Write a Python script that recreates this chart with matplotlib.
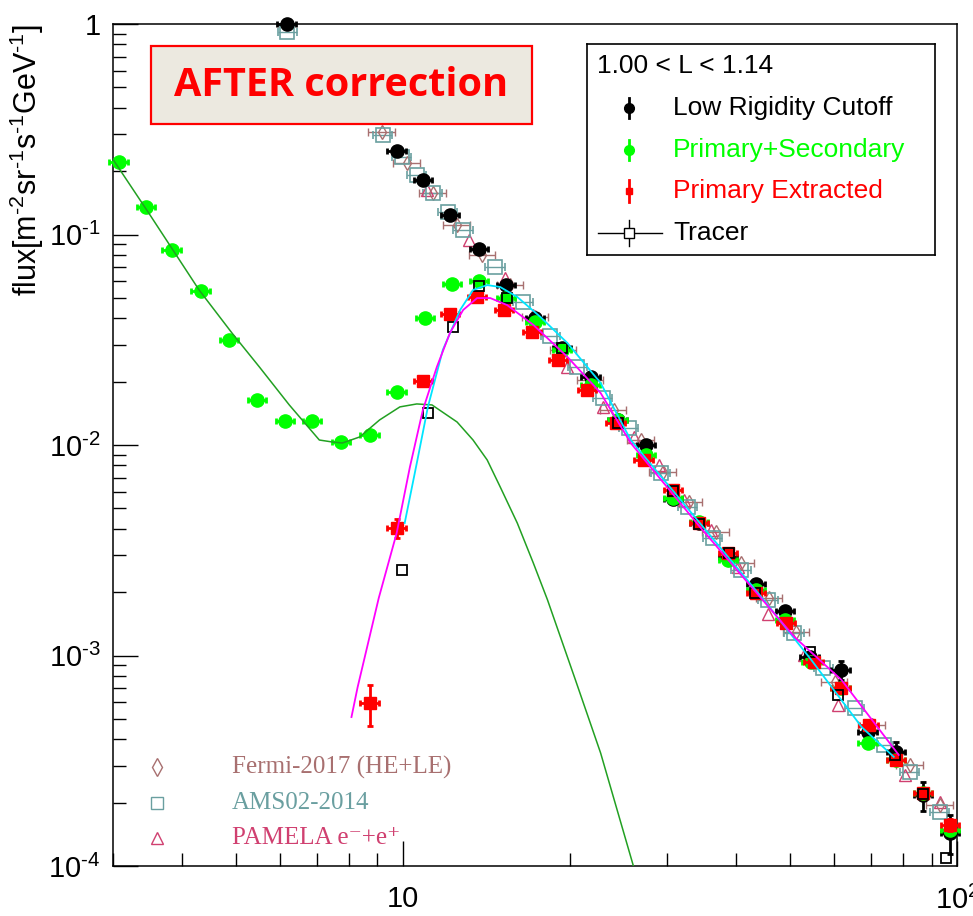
import numpy as np
import matplotlib
matplotlib.use("Agg")
import matplotlib.pyplot as plt
from matplotlib.patches import Rectangle
from matplotlib.lines import Line2D
from matplotlib.ticker import FixedLocator, NullFormatter, LogLocator

plt.rcParams['font.family'] = ['Liberation Sans', 'DejaVu Sans']
plt.rcParams['mathtext.fontset'] = 'custom'
plt.rcParams['mathtext.rm'] = 'Liberation Sans'
plt.rcParams['mathtext.it'] = 'Liberation Sans:italic'
plt.rcParams['mathtext.bf'] = 'Liberation Sans:bold'

# ---- data (energy in GeV, flux) ----
# Low Rigidity Cutoff (black)
lrc_e = [6.17, 9.75, 10.87, 12.16, 13.73, 15.37, 17.34, 19.41, 21.82, 24.42, 27.45,
         30.72, 34.22, 38.64, 43.42, 49.0, 54.2, 61.7, 69.0, 77.6, 86.8, 97.1]
lrc_flux = [1.0, 0.249, 0.182, 0.124, 0.0853, 0.0575, 0.0401, 0.0289, 0.0210, 0.0132, 0.0100,
            0.00554, 0.00426, 0.00294, 0.00219, 0.00163, 0.000984, 0.000853, 0.000433, 0.000348,
            0.000217, 0.000144]
lrc_err = [0.02, 0.005, 0.004, 0.003, 0.002, 0.0014, 0.001, 0.0007, 0.0005, 0.0004, 0.0003,
           0.0002, 0.00015, 0.0001, 0.00008, 0.00007, 0.00006, 0.00009, 0.00006, 0.00004,
           0.000035, 0.00003]

# Primary+Secondary (green)
sec_e = [3.07, 3.44, 3.83, 4.32, 4.86, 5.46, 6.14, 6.87, 7.75, 8.71, 9.75, 10.96, 12.27,
         13.73, 15.37, 17.34, 19.41, 21.82, 24.42, 27.45, 30.72, 34.22, 38.64, 43.42, 49.0,
         54.6, 61.7, 69.0, 77.6, 86.8, 97.1]
sec_flux = [0.221, 0.135, 0.0844, 0.0539, 0.0315, 0.0164, 0.0130, 0.0130, 0.0103, 0.0112,
            0.0179, 0.0401, 0.0582, 0.0601, 0.0499, 0.0384, 0.0283, 0.0193, 0.0132, 0.00896,
            0.0056, 0.0043, 0.00284, 0.00205, 0.00148, 0.00093, 0.00070, 0.000384, 0.000319,
            0.000222, 0.000148]

# Primary Extracted (red)
pri_e = [8.71, 9.75, 10.87, 12.16, 13.62, 15.24, 17.13, 19.09, 21.54, 24.22, 27.22, 30.72,
         34.22, 38.64, 43.42, 49.2, 55.1, 61.7, 69.3, 77.6, 86.8, 97.1]
pri_flux = [0.000594, 0.00403, 0.0201, 0.0419, 0.0505, 0.0438, 0.0344, 0.0253, 0.0183, 0.0127,
            0.00849, 0.00611, 0.00426, 0.00307, 0.00198, 0.00143, 0.00093, 0.00070, 0.000468,
            0.000319, 0.000222, 0.000157]
pri_err = [0.00013, 0.0004, 0.0008, 0.0012, 0.0012, 0.001, 0.0008, 0.0006, 0.0004, 0.0003,
           0.0002, 0.00015, 0.0001, 0.00008, 0.00006, 0.00004, 0.00003, 0.00002, 0.000015,
           0.00001, 0.00001, 0.00001]

# Tracer (open black squares)
trc_e = [9.96, 11.10, 12.32, 13.73, 15.43, 19.41, 24.42, 30.72, 34.22, 38.80, 43.26, 54.2,
         61.1, 77.2, 86.8, 95.5]
trc_flux = [0.00255, 0.0142, 0.0364, 0.0569, 0.0499, 0.0289, 0.0127, 0.00604, 0.00421,
            0.00307, 0.00198, 0.00104, 0.00065, 0.000337, 0.00022, 0.000109]

# reference measurements
fermi_e = [9.16, 10.17, 11.33, 12.53, 13.91, 15.63, 17.34, 19.50, 21.82, 24.01, 26.87, 29.45,
           32.84, 36.74, 40.79, 45.84, 51.31, 60.12, 70.15, 82.2, 93.2]
fermi_flux = [0.307, 0.219, 0.1575, 0.111, 0.0799, 0.0575, 0.0406, 0.0283, 0.0204, 0.01467,
              0.01056, 0.00745, 0.00536, 0.00386, 0.00275, 0.001876, 0.001294, 0.000748,
              0.000468, 0.000302, 0.000195]
ams_e = [6.19, 9.20, 9.96, 10.60, 11.33, 12.06, 12.85, 14.68, 16.50, 18.47, 20.66, 22.94,
         25.56, 29.21, 32.70, 36.28, 40.79, 45.65, 50.87, 57.42, 65.35, 73.75, 82.2, 93.2]
ams_flux = [0.916, 0.297, 0.233, 0.192, 0.1575, 0.128, 0.105, 0.0701, 0.0478, 0.0329, 0.0235,
            0.0167, 0.01205, 0.00737, 0.00507, 0.00361, 0.00255, 0.00184, 0.00128, 0.000873,
            0.000564, 0.000376, 0.00028, 0.000181]
pam_e = [11.05, 13.17, 15.31, 17.20, 19.82, 22.94, 26.10, 28.97, 32.16, 35.98, 40.29, 45.65,
         53.04, 61.12, 80.5, 93.2]
pam_flux = [0.1627, 0.0942, 0.0621, 0.0415, 0.0235, 0.01517, 0.01092, 0.00803, 0.00548,
            0.00395, 0.00263, 0.00157, 0.001005, 0.000582, 0.00027, 0.000201]

# fitted curves
secfit_e = [2.98, 3.48, 4.29, 4.92, 5.51, 6.24, 7.07, 7.47, 7.78, 8.36, 9.08, 9.88, 10.60,
            11.29, 12.53, 13.39, 14.20, 14.99, 16.09, 17.20, 18.24, 20.49, 22.75, 26.10, 26.9]
secfit_flux = [0.2335, 0.1265, 0.0545, 0.0340, 0.0235, 0.0155, 0.01056, 0.01033, 0.01022,
               0.01092, 0.01315, 0.01517, 0.01567, 0.0155, 0.01286, 0.01056, 0.00849, 0.00632,
               0.00426, 0.00275, 0.00184, 0.000765, 0.000344, 0.0000989, 0.000069]
magfit_e = [8.08, 8.29, 9.05, 9.75, 10.30, 10.87, 11.52, 12.16, 12.85, 13.62, 14.38, 15.43,
            17.20, 19.82, 22.75, 25.78, 34.4, 50.9, 61.9, 78.5]
magfit_flux = [0.00051, 0.000708, 0.001876, 0.00382, 0.00786, 0.01467, 0.02348, 0.0340, 0.0438,
               0.0499, 0.0499, 0.0462, 0.0372, 0.0262, 0.01766, 0.01022, 0.00407, 0.001224,
               0.000765, 0.000337]
cyanfit_e = [10.08, 10.60, 11.10, 11.81, 12.69, 13.39, 14.20, 14.99, 16.09, 17.71, 19.82,
             22.75, 25.78, 44.34, 54.6, 67.3, 76.9]
cyanfit_flux = [0.00426, 0.00821, 0.01517, 0.0283, 0.0438, 0.0545, 0.0575, 0.0563, 0.0505,
                0.0406, 0.0305, 0.0197, 0.01056, 0.0019, 0.000952, 0.000457, 0.00033]

ytick_vals = [1e-4, 1e-3, 1e-2, 1e-1, 1]
ytick_labels = [r'$10^{\text{-}4}$', r'$10^{\text{-}3}$', r'$10^{\text{-}2}$',
                r'$10^{\text{-}1}$', '1']
xtick_vals = [10, 100]
xtick_labels = ['10', r'$10^{2}$']

# ---- figure ----
W, H = 973, 916
def fx(x):
    return x / W
def fy(y):
    return 1 - y / H

fig = plt.figure(figsize=(W / 100, H / 100), dpi=100)
ax = fig.add_axes([fx(113), fy(866), (957 - 113) / W, (866 - 24) / H])
ax.set_xscale('log')
ax.set_yscale('log')
ax.set_xlim(3, 100)
ax.set_ylim(1e-4, 1)

def errs(x, y, xfrac, yerr, **kw):
    c = ax.errorbar(x, y, xerr=np.array(x) * xfrac, yerr=yerr, **kw)
    for a in c.get_children():
        a.set_clip_on(False)
    return c

# reference data
errs(fermi_e, fermi_flux, 0.055, None, fmt='d', ms=7, mfc='none', mec='#a87070', mew=1,
     ecolor='#a87070', elinewidth=1, capsize=3, zorder=2)
errs(ams_e, ams_flux, 0.04, None, fmt='s', ms=10, mfc='none', mec='#6a9fa0', mew=1.2,
     ecolor='#6a9fa0', elinewidth=1, capsize=3, zorder=2)
ax.plot(pam_e, pam_flux, '^', ms=9, mfc='none', mec='#d04070', mew=1, zorder=2)

# measurements
errs(lrc_e, lrc_flux, 0.038, lrc_err, fmt='o', ms=9.5, color='black', elinewidth=2,
     capsize=2.5, capthick=2, zorder=3)
errs(sec_e, sec_flux, 0.038, None, fmt='o', ms=9.5, color='#00ff00', elinewidth=2,
     capsize=2.5, capthick=2, zorder=4)
errs(pri_e, pri_flux, 0.038, pri_err, fmt='s', ms=8, color='#ff0000', elinewidth=2,
     capsize=2.5, capthick=2, zorder=5)
ax.plot(trc_e, trc_flux, 's', ms=7, mfc='none', mec='black', mew=1.3, zorder=6)

# fits
ax.plot(secfit_e, secfit_flux, color='#22a022', lw=1.1, zorder=7)
ax.plot(cyanfit_e, cyanfit_flux, color='#00e5ff', lw=1.3, zorder=7)
ax.plot(magfit_e, magfit_flux, color='#ff00ff', lw=1.3, zorder=7)

# axes style (ROOT-like)
ax.tick_params(which='both', direction='in', top=False, right=False, color='black')
ax.tick_params(which='major', length=18, width=1, labelsize=21, pad=9)
ax.tick_params(which='minor', length=9.5, width=1)
ax.tick_params(axis='x', which='major', pad=14)
ax.yaxis.set_major_locator(FixedLocator(ytick_vals))
ax.set_yticklabels(ytick_labels)
ax.yaxis.set_minor_locator(LogLocator(base=10, subs=np.arange(2, 10)))
ax.yaxis.set_minor_formatter(NullFormatter())
ax.xaxis.set_major_locator(FixedLocator(xtick_vals))
ax.set_xticklabels(xtick_labels)
ax.xaxis.set_minor_locator(LogLocator(base=10, subs=np.arange(2, 10)))
ax.xaxis.set_minor_formatter(NullFormatter())
for s in ax.spines.values():
    s.set_linewidth(1.1)
ax.set_ylabel(r'flux[m$^{\text{-}2}$sr$^{\text{-}1}$s$^{\text{-}1}$GeV$^{\text{-}1}$]',
              fontsize=22, loc='top')
ax.yaxis.set_label_coords(-0.079, 1.0)

# "AFTER correction" box
fig.add_artist(Rectangle((fx(151), fy(124)), (532 - 151) / W, (124 - 46) / H,
                         transform=fig.transFigure, facecolor='#ece9e0',
                         edgecolor='#ff0000', lw=1.6, zorder=10))
fig.text(fx(341), fy(86), 'AFTER correction', color='#ff0000', fontsize=28.5,
         fontweight='bold', family='Open Sans', ha='center', va='center', zorder=11)

# upper-right legend
lax = fig.add_axes([fx(587), fy(255), (935 - 587) / W, (255 - 44) / H])
lax.set_xlim(0, 348)
lax.set_ylim(211, 0)
lax.set_xticks([])
lax.set_yticks([])
for s in lax.spines.values():
    s.set_linewidth(1.2)
lax.text(10, 22, '1.00 < L < 1.14', fontsize=19, ha='left', va='center')
rows = [64, 106, 147, 189]
names = ['Low Rigidity Cutoff', 'Primary+Secondary', 'Primary Extracted', 'Tracer']
cols = ['black', '#00ff00', '#ff0000', 'black']
for r, n, c in zip(rows, names, cols):
    lax.text(86, r, n, fontsize=19, color=c, ha='left', va='center')
lax.plot([42, 42], [rows[0] - 10, rows[0] + 10], color='black', lw=2)
lax.plot([42], [rows[0]], 'o', ms=7, color='black')
lax.plot([42, 42], [rows[1] - 10, rows[1] + 10], color='#00ff00', lw=2)
lax.plot([42], [rows[1]], 'o', ms=7, color='#00ff00')
lax.plot([42, 42], [rows[2] - 11, rows[2] + 11], color='#ff0000', lw=2)
lax.plot([42], [rows[2]], 's', ms=5, color='#ff0000')
lax.plot([11, 75], [rows[3], rows[3]], color='black', lw=1)
lax.plot([42, 42], [rows[3] - 13, rows[3] + 13], color='black', lw=1)
lax.plot([42], [rows[3]], 's', ms=7, mfc='white', mec='black', mew=1)

# lower-left legend for reference data
ref_names = ['Fermi-2017 (HE+LE)', 'AMS02-2014', 'PAMELA e\u207b+e\u207a']
ref_cols = ['#a87070', '#6a9fa0', '#d04070']
ref_marks = ['d', 's', '^']
ref_sizes = [9, 9, 9]
ref_ys = [767, 803, 838]
for n, c, m, sz, yy in zip(ref_names, ref_cols, ref_marks, ref_sizes, ref_ys):
    fig.add_artist(Line2D([fx(157)], [fy(yy)], marker=m, ms=sz,
                          mfc='none', mec=c, mew=1, linestyle='none',
                          transform=fig.transFigure))
    fig.text(fx(232), fy(yy), n, color=c, fontsize=18,
             family=['Liberation Serif', 'DejaVu Serif'], ha='left', va='center')

fig.savefig('out.png', dpi=100)
